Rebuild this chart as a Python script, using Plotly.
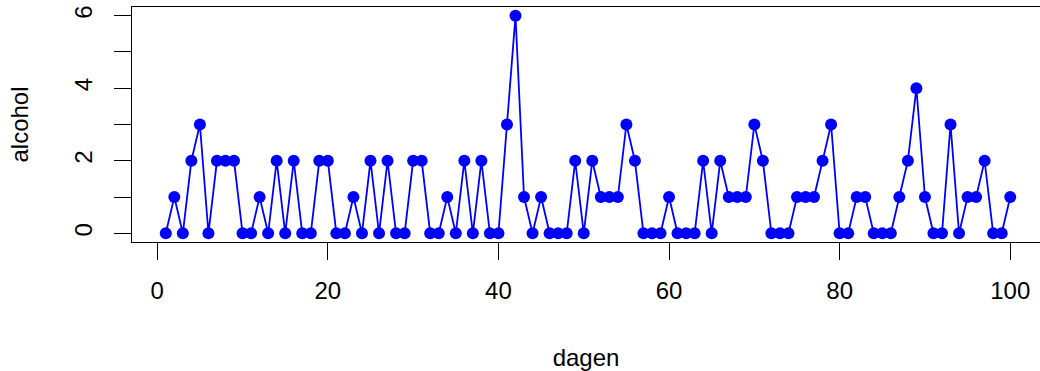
import plotly.graph_objects as go

dagen = list(range(1, 101))
alcohol = [
    0, 1, 0, 2, 3, 0, 2, 2, 2, 0,
    0, 1, 0, 2, 0, 2, 0, 0, 2, 2,
    0, 0, 1, 0, 2, 0, 2, 0, 0, 2,
    2, 0, 0, 1, 0, 2, 0, 2, 0, 0,
    3, 6, 1, 0, 1, 0, 0, 0, 2, 0,
    2, 1, 1, 1, 3, 2, 0, 0, 0, 1,
    0, 0, 0, 2, 0, 2, 1, 1, 1, 3,
    2, 0, 0, 0, 1, 1, 1, 2, 3, 0,
    0, 1, 1, 0, 0, 0, 1, 2, 4, 1,
    0, 0, 3, 0, 1, 1, 2, 0, 0, 1,
]
x_ticks = [0, 20, 40, 60, 80, 100]
y_ticks = [0, 1, 2, 3, 4, 5, 6]
y_ticktext = ["0", "", "2", "", "4", "", "6"]

FONT = "Liberation Sans, Arial, sans-serif"

fig = go.Figure()
fig.add_trace(go.Scatter(
    x=dagen, y=alcohol, mode="lines+markers",
    line=dict(color="#0000FF", width=1.8),
    marker=dict(color="#0000FF", size=12),
    showlegend=False,
))

fig.update_layout(
    width=1040, height=371,
    margin=dict(l=132, r=0, t=7, b=129, pad=0),
    paper_bgcolor="white", plot_bgcolor="white",
    font=dict(family=FONT, size=24, color="black"),
    xaxis=dict(
        range=[-2.96, 103.49], tickvals=x_ticks,
        showgrid=False, zeroline=False,
        showline=True, linecolor="black", linewidth=1.3, mirror=True,
        ticks="outside", ticklen=17, tickwidth=1.3, tickcolor="black",
        ticklabelstandoff=10,
        tickfont=dict(family=FONT, size=24, color="black"),
        title=dict(text="dagen", font=dict(family=FONT, size=24, color="black"), standoff=48),
    ),
    yaxis=dict(
        range=[-0.24, 6.24], tickvals=y_ticks, ticktext=y_ticktext,
        tickangle=-90,
        showgrid=False, zeroline=False,
        showline=True, linecolor="black", linewidth=1.3, mirror=False,
        ticks="outside", ticklen=17, tickwidth=1.3, tickcolor="black",
        ticklabelstandoff=12,
        tickfont=dict(family=FONT, size=24, color="black"),
        title=dict(text="alcohol", font=dict(family=FONT, size=24, color="black"), standoff=34),
    ),
)

fig.write_html("out.html")
